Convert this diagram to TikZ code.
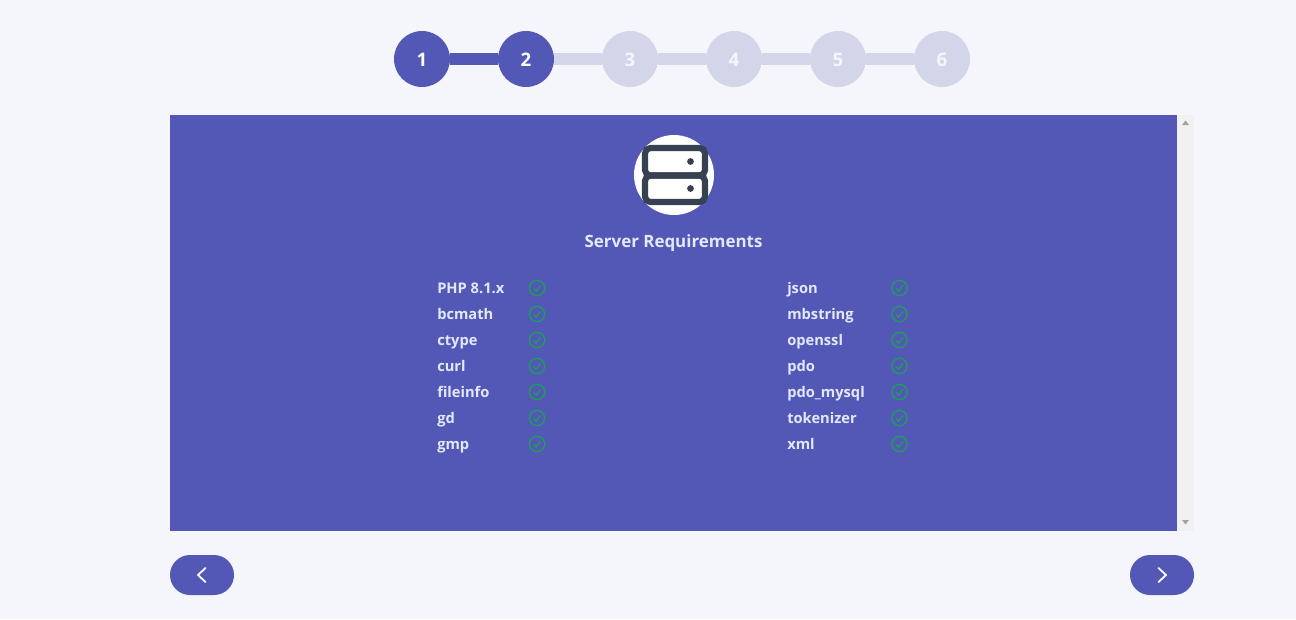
\documentclass[tikz,border=0pt]{standalone}
\usepackage{fontspec}
\setmainfont{Open Sans}
\definecolor{pagebg}{HTML}{F5F6FB}
\definecolor{brand}{HTML}{5358B6}
\definecolor{stepoff}{HTML}{D3D6E8}
\definecolor{reqtext}{HTML}{E2E8FD}
\definecolor{okgreen}{HTML}{17A34F}
\definecolor{icondark}{HTML}{374151}
\definecolor{trackbg}{HTML}{F1F1F1}
\definecolor{thumbgrey}{HTML}{A3A3A3}
\tikzset{
  stepdone/.style={circle, fill=brand, minimum size=42pt, inner sep=0pt, text=white, text height=11.5pt, text depth=0pt, font=\bfseries\fontsize{14}{16}\selectfont},
  steptodo/.style={stepdone, fill=stepoff, text=pagebg},
  linkdone/.style={draw=brand, line width=9pt},
  linktodo/.style={draw=stepoff, line width=9pt},
  reqlabel/.style={anchor=base west, inner sep=0pt, text=reqtext, font=\fontsize{11}{14}\selectfont\bfseries},
  reqcheck/.style={circle, draw=okgreen, line width=0.9pt, minimum size=11.5pt, inner sep=0pt},
  navbutton/.style={rounded corners=15pt, fill=brand, minimum width=48pt, minimum height=30pt, inner sep=0pt},
  chevron/.style={draw=white, line width=1.35pt, line cap=round, line join=round},
  iconline/.style={draw=icondark, line width=4.6pt, rounded corners=4pt},
}
\begin{document}
\begin{tikzpicture}[x=0.75pt, y=-0.75pt]
    \useasboundingbox[fill=pagebg] (0,0) rectangle (1296,619);
    % stepper
    \node[stepdone] (s1) at (422,59) {1};
    \node[stepdone] (s2) at (526,59) {2};
    \node[steptodo] (s3) at (630,59) {3};
    \node[steptodo] (s4) at (734,59) {4};
    \node[steptodo] (s5) at (838,59) {5};
    \node[steptodo] (s6) at (942,59) {6};
    \draw[linkdone] (s1) -- (s2);
    \draw[linktodo] (s2) -- (s3);
    \draw[linktodo] (s3) -- (s4);
    \draw[linktodo] (s4) -- (s5);
    \draw[linktodo] (s5) -- (s6);
    % panel and scrollbar
    \fill[trackbg] (1177,115) rectangle (1194,531);
    \fill[brand] (170,115) rectangle (1177,531);
    \fill[thumbgrey] (1185.5,120.5) -- (1189,125) -- (1182,125) -- cycle;
    \fill[thumbgrey] (1185.5,524.5) -- (1189,520) -- (1182,520) -- cycle;
    % server icon
    \fill[white] (674,175) circle [radius=40];
    \draw[iconline] (645,148) rectangle (705,175.5);
    \draw[iconline] (645,175.5) rectangle (705,202);
    \fill[icondark] (690.5,161.5) circle [radius=3.4];
    \fill[icondark] (690.5,188.5) circle [radius=3.4];
    \node[anchor=base, inner sep=0pt, text=reqtext, font=\fontsize{12.7}{15}\selectfont\bfseries] (title) at (673.5,247.5) {Server Requirements};
    % left column
    \foreach \lab [count=\i from 0] in {PHP 8.1.x,bcmath,ctype,curl,fileinfo,gd,gmp} {
        \node[reqlabel] (la\i) at (437,293.5+26*\i) {\lab};
        \node[reqcheck] (lc\i) at (537,288+26*\i) {};
        \draw[okgreen, line width=0.9pt] (533.5,288.5+26*\i) -- (536,291+26*\i) -- (540.5,285.5+26*\i);
    }
    % right column
    \foreach \lab [count=\i from 0] in {json,mbstring,openssl,pdo,pdo\_mysql,tokenizer,xml} {
        \node[reqlabel] (ra\i) at (787,293.5+26*\i) {\lab};
        \node[reqcheck] (rc\i) at (899.5,288+26*\i) {};
        \draw[okgreen, line width=0.9pt] (896,288.5+26*\i) -- (898.5,291+26*\i) -- (903,285.5+26*\i);
    }
    % buttons
    \node[navbutton] (back) at (202,575) {};
    \node[navbutton] (next) at (1162,575) {};
    \draw[chevron] (205.5,568) -- (198,575) -- (205.5,582);
    \draw[chevron] (1158.5,568) -- (1166,575) -- (1158.5,582);
\end{tikzpicture}
\end{document}
